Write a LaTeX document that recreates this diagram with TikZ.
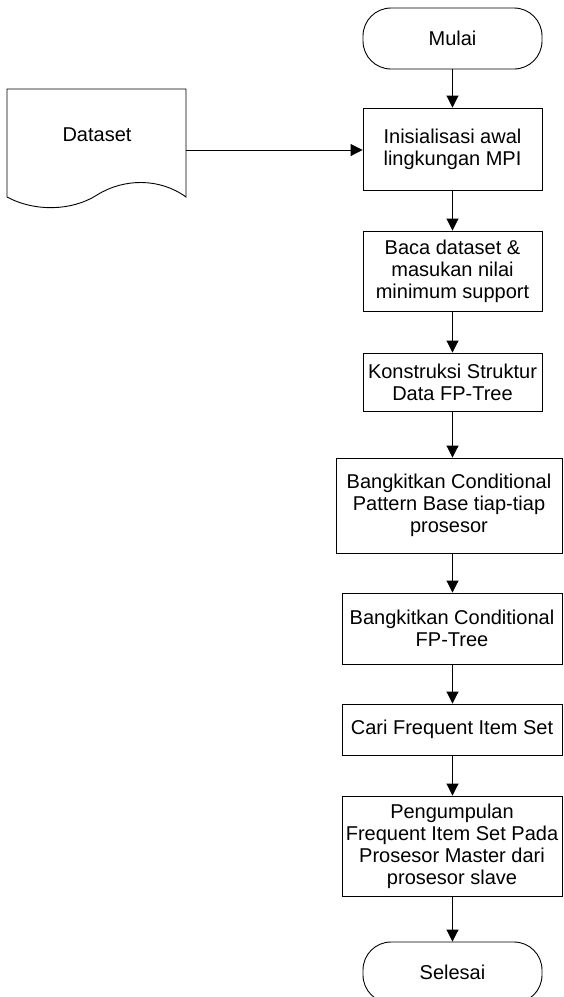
\documentclass[tikz,border=0pt]{standalone}
\usepackage{fontspec}
\setmainfont{Liberation Sans}
\usetikzlibrary{arrows.meta}
\tikzset{
  base/.style={draw=black, line width=0.9pt, align=center, inner sep=2pt,
    font=\fontsize{20}{22}\selectfont},
  procbox/.style={base, rectangle},
  termbox/.style={base, rectangle, rounded corners=28pt},
  flow/.style={draw=black, line width=0.9pt, -{Triangle[width=12pt,length=12pt]}},
}
\begin{document}
\begin{tikzpicture}[x=1pt,y=-1pt]
\useasboundingbox (0,0) rectangle (563,997);
\clip (0,0) rectangle (563,997);
\fill[white] (0,0) rectangle (563,997);
% terminators and process boxes (positions = centres; sizes in px)
\node[termbox, minimum width=179pt, minimum height=61pt] (mulai) at (452.5,38.5) {Mulai};
\node[procbox, minimum width=179pt, minimum height=82pt] (init) at (452.5,149) {Inisialisasi awal\\lingkungan MPI};
\node[procbox, minimum width=179pt, minimum height=80pt] (baca) at (452.5,271) {Baca dataset \&\\masukan nilai\\minimum support};
\node[procbox, minimum width=179pt, minimum height=58pt] (konst) at (452.5,382) {Konstruksi Struktur\\Data FP-Tree};
\node[procbox, minimum width=226pt, minimum height=95pt] (cpb) at (449,505.5) {Bangkitkan Conditional\\Pattern Base tiap-tiap\\prosesor};
\node[procbox, minimum width=220pt, minimum height=71pt] (cfp) at (452,628.5) {Bangkitkan Conditional\\FP-Tree};
\node[procbox, minimum width=220pt, minimum height=51pt] (cari) at (452,729.5) {Cari Frequent Item Set};
\node[procbox, minimum width=220pt, minimum height=100pt] (kumpul) at (452,846) {Pengumpulan\\Frequent Item Set Pada\\Prosesor Master dari\\prosesor slave};
\node[termbox, minimum width=179pt, minimum height=61pt, text depth=0pt] (selesai) at (452.5,972.5) {Selesai};
% document shape
\draw[line width=0.9pt] (7,197) -- (7,89) -- (186,89) -- (186,197)
  .. controls (160,178) and (124,178) .. (97,195)
  .. controls (72,211) and (35,212) .. (7,197);
\node[font=\fontsize{20}{22}\selectfont] (ds) at (97,135) {Dataset};
\coordinate (dsout) at (186,150);
% connectors
\draw[flow] (mulai.south) -- (init.north);
\draw[flow] (init.south) -- (baca.north);
\draw[flow] (baca.south) -- (konst.north);
\draw[flow] (konst.south) -- (konst.south |- cpb.north);
\draw[flow] (konst.south |- cpb.south) -- (konst.south |- cfp.north);
\draw[flow] (konst.south |- cfp.south) -- (konst.south |- cari.north);
\draw[flow] (konst.south |- cari.south) -- (konst.south |- kumpul.north);
\draw[flow] (konst.south |- kumpul.south) -- (selesai.north);
\draw[flow] (dsout) -- (dsout -| init.west);
\end{tikzpicture}
\end{document}
